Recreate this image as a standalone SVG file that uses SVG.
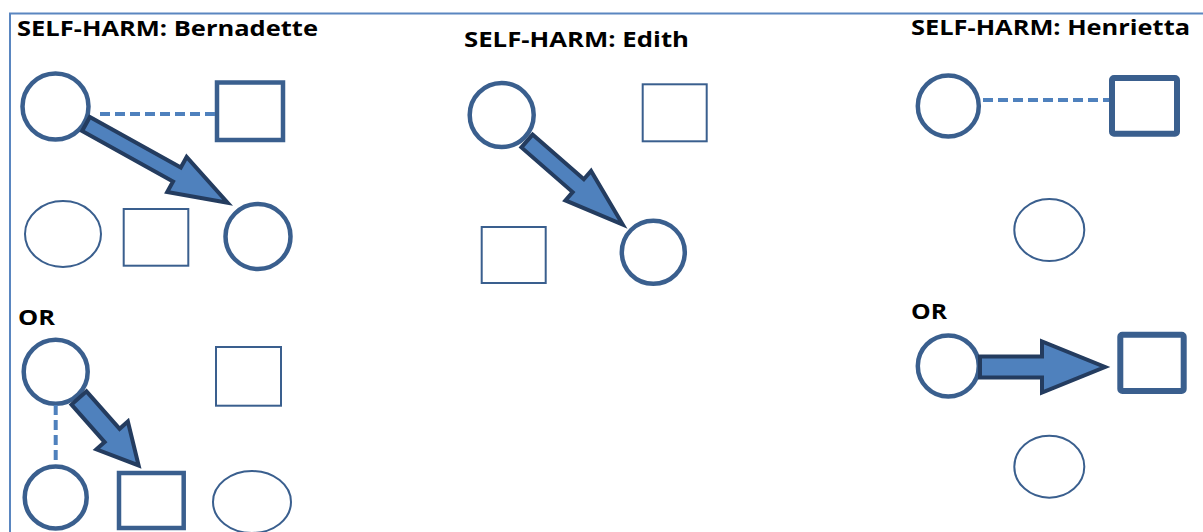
<svg xmlns="http://www.w3.org/2000/svg" width="1203" height="532" viewBox="0 0 1203 532">
<style>
.t{font-family:"Open Sans","Liberation Sans",sans-serif;font-weight:bold;font-size:21px;fill:#000}
.n{fill:#fff;stroke:#3a5f8e}
.k{stroke-width:4.5}
.h{stroke-width:2}
.x{stroke-width:6}
.d{stroke:#4f81bd;stroke-width:4;stroke-dasharray:10 5;fill:none}
.a{fill:#4f81bd;stroke:#243c5f;stroke-width:4;stroke-linejoin:miter}
</style>
<rect width="1203" height="532" fill="#fff"/>
<g id="frame"><path d="M10,532 V13.5 H1203" fill="none" stroke="#5a86c0" stroke-width="2"/></g>
<g id="titles">
<text class="t" x="17" y="36" textLength="301" lengthAdjust="spacingAndGlyphs">SELF-HARM: Bernadette</text>
<text class="t" x="464" y="47" textLength="225" lengthAdjust="spacingAndGlyphs">SELF-HARM: Edith</text>
<text class="t" x="911" y="35" textLength="279" lengthAdjust="spacingAndGlyphs">SELF-HARM: Henrietta</text>
<text class="t" x="18" y="325" textLength="37" lengthAdjust="spacingAndGlyphs">OR</text>
<text class="t" x="911" y="319" textLength="36" lengthAdjust="spacingAndGlyphs">OR</text>
</g>
<g id="b-c1"><circle class="n k" cx="55.5" cy="106.5" r="33"/></g>
<g id="b-s1"><rect class="n k" x="217" y="82.5" width="66" height="57.5"/></g>
<g id="b-e1"><ellipse class="n h" cx="63" cy="234" rx="38" ry="33"/></g>
<g id="b-s2"><rect class="n h" x="123.7" y="209" width="64.6" height="56.7"/></g>
<g id="b-c3"><circle class="n k" cx="258" cy="236.5" r="32.5"/></g>
<g id="b2-c4"><circle class="n k" cx="55.7" cy="371.7" r="32"/></g>
<g id="b2-s3"><rect class="n h" x="216" y="347" width="65" height="58.7"/></g>
<g id="b2-c5"><circle class="n k" cx="55.7" cy="497.5" r="31"/></g>
<g id="b2-s4"><rect class="n k" x="119" y="473" width="64.7" height="55"/></g>
<g id="b2-e2"><ellipse class="n h" cx="252" cy="502" rx="39" ry="31"/></g>
<g id="e-c6"><circle class="n k" cx="501.7" cy="115" r="32"/></g>
<g id="e-s5"><rect class="n h" x="642.7" y="84.3" width="64" height="57"/></g>
<g id="e-s6"><rect class="n h" x="481.7" y="227" width="64" height="56"/></g>
<g id="e-c7"><circle class="n k" cx="653.3" cy="252.3" r="31.5"/></g>
<g id="h-c8"><circle class="n k" cx="948.3" cy="106" r="30.5"/></g>
<g id="h-s7"><rect class="n x" x="1112" y="78" width="65" height="55.7" rx="2"/></g>
<g id="h-e3"><ellipse class="n h" cx="1049.3" cy="230" rx="35" ry="31"/></g>
<g id="h2-c9"><circle class="n k" cx="948.3" cy="366" r="30.5"/></g>
<g id="h2-s8"><rect class="n x" x="1120.3" y="334.7" width="63.4" height="56.3" rx="2"/></g>
<g id="h2-e4"><ellipse class="n h" cx="1049.3" cy="466.7" rx="35" ry="31"/></g>
<g id="connectors">
<line class="d" x1="100" y1="114" x2="215" y2="114"/>
<line class="d" x1="55.7" y1="405" x2="55.7" y2="463"/>
<line class="d" x1="983" y1="100" x2="1109" y2="100"/>
<polygon class="a" transform="translate(86,124) rotate(29.05)" points="0,-8 104,-8 104,-20 162,0 104,20 104,8 0,8"/>
<polygon class="a" transform="translate(79,398) rotate(48.5)" points="0,-10 50,-10 50,-21 90,0 50,21 50,10 0,10"/>
<polygon class="a" transform="translate(527,141) rotate(41.1)" points="0,-8.5 68,-8.5 68,-19.5 127,0 68,19.5 68,8.5 0,8.5"/>
<polygon class="a" transform="translate(980,367)" points="0,-10.5 62,-10.5 62,-25.5 125,0 62,25.5 62,10.5 0,10.5"/>
</g>
</svg>
